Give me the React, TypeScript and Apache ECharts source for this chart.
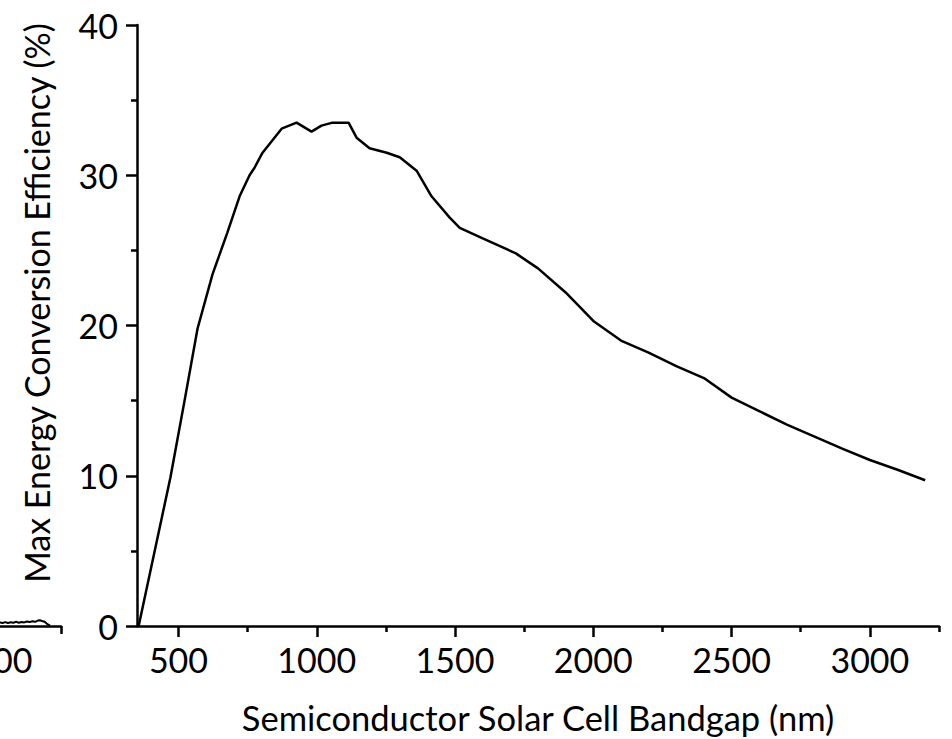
import React, { useEffect, useRef } from "react";
import * as echarts from "echarts";

// Main curve: bandgap (nm) vs max efficiency (%)
const bandgapNm = [356, 471, 522, 569, 623, 677, 721, 757, 775, 804, 873, 927, 981, 1017, 1057, 1115, 1144, 1191, 1253, 1300, 1361, 1415, 1480, 1517, 1600, 1720, 1800, 1900, 2000, 2100, 2200, 2300, 2400, 2500, 2600, 2700, 2800, 2900, 3000, 3100, 3200];
const efficiency = [0, 9.9, 15.0, 19.8, 23.4, 26.2, 28.6, 30.0, 30.5, 31.5, 33.1, 33.5, 32.9, 33.3, 33.5, 33.5, 32.5, 31.8, 31.5, 31.2, 30.3, 28.6, 27.2, 26.5, 25.8, 24.8, 23.8, 22.2, 20.3, 19.0, 18.2, 17.3, 16.5, 15.2, 14.3, 13.4, 12.6, 11.8, 11.05, 10.4, 9.7];

const xMajorTicks = [500, 1000, 1500, 2000, 2500, 3000];
const xMinorTicks = [750, 1250, 1750, 2250, 2750, 3250];

// Fragment of a neighbouring panel cut off at the left edge
const fragX = [1000, 1005, 1010, 1014, 1018, 1022, 1026, 1030, 1034, 1038, 1042, 1046, 1050, 1054, 1058, 1062, 1066, 1069, 1072, 1076, 1080, 1084];
const fragY = [0.22, 0.18, 0.24, 0.2, 0.26, 0.2, 0.25, 0.22, 0.28, 0.22, 0.27, 0.24, 0.3, 0.26, 0.32, 0.28, 0.36, 0.38, 0.33, 0.28, 0.12, 0.02];
const fragMajorTicks = [1000];
const fragMinorTicks = [1100];

const FONT = "Lato";

export default function App() {
  const ref = useRef<HTMLDivElement>(null);
  useEffect(() => {
    if (!ref.current) return;
    const chart = echarts.init(ref.current, null, { renderer: "svg" });
    const axisLine = { show: true, onZero: false, lineStyle: { color: "#000", width: 2.5 } };
    const labelStyle = { color: "#000", fontFamily: FONT, fontSize: 34 };
    const tickLine = { color: "#000", width: 2.5 };
    chart.setOption({
      animation: false,
      backgroundColor: "#fff",
      grid: [
        { left: 137, top: 25, right: 13, bottom: 113, outerBoundsMode: "none", containLabel: false },
        { left: -687, width: 748, top: 25, bottom: 113, outerBoundsMode: "none", containLabel: false },
      ],
      xAxis: [
        {
          type: "value",
          gridIndex: 0,
          min: 350,
          max: 3250,
          position: "bottom",
          axisLine,
          splitLine: { show: false },
          axisTick: { show: true, inside: false, customValues: xMajorTicks, length: 11, lineStyle: tickLine },
          axisLabel: { show: true, customValues: xMajorTicks, margin: 16, formatter: (v: number) => String(v), ...labelStyle },
          name: "Semiconductor Solar Cell Bandgap (nm)",
          nameLocation: "middle",
          nameGap: 74,
          nameTextStyle: { ...labelStyle, fontSize: 34.5 },
        },
        {
          type: "value",
          gridIndex: 0,
          min: 350,
          max: 3250,
          position: "bottom",
          axisLine: { show: false, onZero: false },
          splitLine: { show: false },
          axisTick: { show: true, inside: false, customValues: xMinorTicks, length: 6, lineStyle: tickLine },
          axisLabel: { show: false },
        },
        {
          type: "value",
          gridIndex: 1,
          min: 0,
          max: 1100,
          position: "bottom",
          axisLine,
          splitLine: { show: false },
          axisTick: { show: true, inside: false, customValues: fragMajorTicks, length: 11, lineStyle: tickLine },
          axisLabel: { show: true, customValues: fragMajorTicks, margin: 16, formatter: (v: number) => String(v), ...labelStyle },
        },
        {
          type: "value",
          gridIndex: 1,
          min: 0,
          max: 1100,
          position: "bottom",
          axisLine: { show: false, onZero: false },
          splitLine: { show: false },
          axisTick: { show: true, inside: false, customValues: fragMinorTicks, length: 8, lineStyle: tickLine },
          axisLabel: { show: false },
        },
      ],
      yAxis: [
        {
          type: "value",
          gridIndex: 0,
          min: 0,
          max: 40,
          interval: 10,
          axisLine,
          splitLine: { show: false },
          axisTick: { show: true, inside: false, length: 11, lineStyle: tickLine },
          minorTick: { show: true, splitNumber: 2, length: 6, lineStyle: tickLine },
          minorSplitLine: { show: false },
          axisLabel: { show: true, margin: 19, formatter: (v: number) => String(v), ...labelStyle },
          name: "Max Energy Conversion Efficiency (%)",
          nameLocation: "middle",
          nameGap: 84,
          nameRotate: 90,
          nameTextStyle: { ...labelStyle, padding: [0, 0, 0, 45] },
        },
        {
          type: "value",
          gridIndex: 1,
          min: 0,
          max: 40,
          show: false,
        },
      ],
      series: [
        {
          type: "line",
          xAxisIndex: 0,
          yAxisIndex: 0,
          data: bandgapNm.map((x, i) => [x, efficiency[i]]),
          showSymbol: false,
          symbol: "none",
          lineStyle: { color: "#000", width: 2.5 },
          clip: false,
        },
        {
          type: "line",
          xAxisIndex: 2,
          yAxisIndex: 1,
          data: fragX.map((x, i) => [x, fragY[i]]),
          showSymbol: false,
          symbol: "none",
          lineStyle: { color: "#000", width: 2 },
        },
      ],
    });
    return () => chart.dispose();
  }, []);
  return (
    <div
      ref={ref}
      style={{ position: "fixed", left: 0, top: 0, width: 952, height: 739, background: "#fff" }}
    />
  );
}
